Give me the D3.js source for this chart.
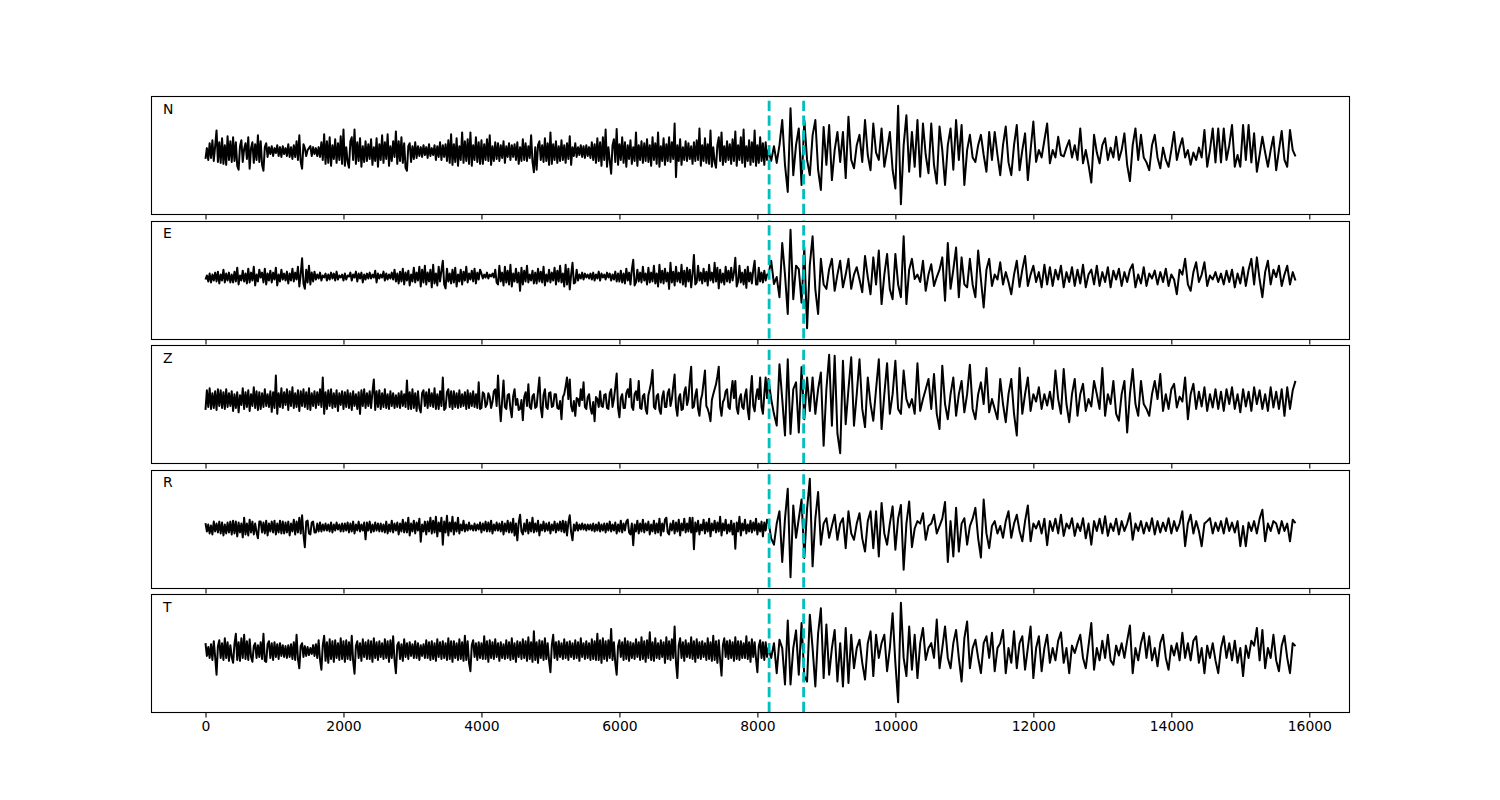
<!DOCTYPE html>
<html><head><meta charset="utf-8">
<script src="https://cdn.jsdelivr.net/npm/d3@7/dist/d3.min.js"></script>
<style>body{margin:0;background:#fff}svg{display:block}</style>
</head><body>
<svg id="chart" width="1500" height="800"></svg>
<script>
// channel names, one panel each
const channels = ["N", "E", "Z", "R", "T"];
// pre-event noise is digitised every 20 samples, the event/coda every 40 samples
const noiseStep = 20;
const codaStart = 8160;
const codaStep = 40;
// picked arrival times (dashed cyan lines)
const pickTimes = [8170, 8670];
// x tick values
const xTicks = [0, 2000, 4000, 6000, 8000, 10000, 12000, 14000, 16000];

// amplitudes in hundredths of the normalised trace
const noiseN = [
-8,14,-10,24,-6,30,-12,18,50,-14,26,-16,34,-18,20,-20,38,-10,28,-14,
36,-12,26,-22,-30,18,30,-14,12,24,-8,36,-28,14,26,-16,22,-10,40,-14,
28,-20,-32,16,24,-4,16,2,18,-2,14,4,20,-2,16,-4,18,2,14,-2,
22,-4,16,-8,20,-4,28,-10,40,-14,-28,22,14,-2,10,14,18,-2,16,2,
14,-2,16,-4,26,-10,42,-18,28,-16,36,-22,20,-8,32,-16,24,-10,38,-18,
52,-22,16,-14,-26,28,36,-10,52,-18,26,-12,34,-24,18,-14,28,-12,22,-8,
32,-20,16,-12,34,-24,22,-10,40,-16,26,-8,42,-22,18,-12,28,-4,48,-18,
28,-12,36,-16,24,-26,-32,18,24,-14,18,-8,26,-6,18,-2,16,-4,20,0,
16,-6,22,-2,14,0,20,-10,18,-4,26,-10,20,-4,22,-12,30,-16,42,-20,
22,-14,34,-22,18,-10,46,-16,28,-12,32,-18,46,-22,20,-10,36,-14,26,-18,
30,-18,22,-10,32,-12,40,-20,18,-12,26,-8,24,-12,20,-6,28,-16,18,-4,
24,-10,20,-4,22,-10,26,-18,16,-12,32,-10,24,-12,18,-6,40,-14,-35,16,
-30,20,28,-10,20,-14,34,-12,24,-20,46,-18,22,-10,28,-16,18,-12,30,-10,
20,-16,24,-8,38,-20,16,-2,24,-4,16,0,20,-4,18,-6,20,-2,16,-6,
26,-10,22,-16,34,-12,26,-22,36,-10,52,-24,16,-12,-38,20,32,-14,53,-20,
22,-10,36,-16,26,-24,20,-8,30,-18,16,-12,46,-22,20,-10,28,-16,24,-12,
32,-14,20,-22,36,-10,24,-18,46,-24,18,-12,34,-20,22,-12,36,-14,26,-8,
64,-45,20,-12,32,-20,16,-10,28,-12,24,-8,18,-18,26,-12,30,-10,54,-22,
20,-12,34,-16,22,-18,50,-24,16,-14,-26,20,36,-12,46,-20,18,-14,28,-10,
22,-18,32,-12,48,-22,20,-10,36,-16,52,-24,18,-12,30,-20,26,-14,50,-22,
20,-16,36,-12,24,-20,26,-10];
const codaN = [
10,-12,18,-16,20,71,-20,-75,95,-41,
20,54,-61,71,-10,-41,40,71,-30,-71,
57,-20,61,-51,10,47,-14,47,-47,78,
-10,-27,20,41,-14,71,0,-31,64,5,
-10,54,-24,10,47,-30,-68,100,-100,20,
81,-34,47,-24,71,-44,64,0,-37,64,
-20,-58,58,10,-61,20,54,-30,71,-10,
61,-61,10,41,-5,-14,20,41,0,-34,
47,-10,47,0,-41,20,58,-15,-41,20,
61,-31,10,44,-51,10,68,-14,10,-5,
30,64,-17,10,-5,37,0,-3,15,30,
-5,20,-10,54,-17,10,-20,-56,41,5,
-17,20,34,-10,15,-5,37,-10,10,44,
-20,-53,20,54,-10,41,-5,-15,-31,20,
41,-5,-27,15,-10,-24,10,47,-10,15,
34,-5,10,-20,5,-10,15,-5,51,-24,
10,54,-15,54,-15,54,-10,20,61,-24,
0,-24,61,-10,61,-15,44,-34,0,37,
5,-24,10,37,-31,10,49,-10,-24,51,
10,-3];

const noiseE = [
0,8,-4,12,-6,10,-2,14,-4,16,-8,10,-2,20,-6,12,-2,14,-6,10,
-6,16,-4,24,-10,8,-2,18,-4,12,-8,22,-6,14,-2,26,-12,10,-4,20,
4,14,-6,22,-10,12,-2,18,-6,14,0,24,-12,10,-4,20,0,12,-2,16,
-8,12,-2,22,-4,14,0,26,-14,10,43,-8,-19,20,-6,28,-10,14,-4,16,
0,10,2,14,-2,8,4,12,-2,10,0,14,2,12,-2,16,0,8,4,10,
-2,12,0,8,6,14,-2,10,4,16,-4,12,2,14,-6,10,0,12,2,14,
2,10,4,18,-6,12,2,10,4,16,-2,12,0,10,2,14,0,20,-4,12,
-8,16,-4,22,-10,14,-2,18,-12,10,-4,24,-6,14,-2,26,-14,20,-6,28,
-10,14,-4,20,-16,30,-8,12,-12,26,-4,18,38,-10,-18,22,-4,12,-8,20,
-6,24,-14,10,-4,20,-10,16,-2,26,-6,12,0,18,-4,22,-8,14,0,20,
12,2,10,4,14,2,10,6,12,4,20,-6,-10,28,-4,14,-12,26,-6,18,
-10,30,-14,12,-4,22,-6,14,-23,24,-10,18,-4,28,-6,10,-2,18,-8,14,
-8,22,-4,16,-6,26,-12,10,-4,20,-6,14,-2,24,-10,18,-4,28,-6,12,
-14,30,-10,22,-20,10,34,-8,-6,20,-2,10,2,14,0,12,4,10,2,12,
0,14,-2,10,2,16,-2,12,4,10,0,14,4,12,-2,10,0,16,-4,12,
-4,18,-6,12,-8,22,-2,14,-10,20,40,-12,-6,20,-4,14,-6,26,-2,12,
-10,24,-6,14,-4,28,-8,12,-14,30,-6,18,-8,22,-4,14,-19,34,-6,16,
-12,26,-4,14,-6,30,-10,18,-14,24,-4,20,-16,12,50,-10,-6,28,-2,14,
-8,22,-4,16,-12,30,-2,14,-6,34,-4,24,-18,20,-6,12,-10,26,-4,18,
-6,24,-2,14,44,-14,-4,28,-6,14,-10,20,-17,26,-4,14,-8,20,38,-10,
-10,24,-4,14,-6,18,-2,10];
const codaE = [
10,38,-9,5,-36,74,10,-70,101,-40,
28,21,-47,65,-99,30,88,-20,-70,42,
-10,-19,21,42,-23,10,38,-16,10,42,
-19,10,25,0,-26,48,5,-30,45,-10,
59,-50,10,52,-20,-40,52,-10,-36,88,
-50,20,42,1,10,-5,38,-23,10,31,
-13,5,20,45,-43,74,-19,20,65,-36,
45,-10,-16,42,-10,-36,59,0,-57,20,
42,-13,10,0,35,-10,15,-5,-30,10,
38,-15,20,48,-13,10,28,-5,15,-16,
30,-10,25,-13,20,0,28,-16,15,-5,
25,-13,20,-8,30,-16,10,20,-10,28,
-13,15,-5,25,-16,18,0,22,-13,15,
-5,20,31,-16,10,-8,25,-13,12,2,
18,-10,15,-5,22,-13,10,0,-30,20,
10,42,-10,-23,15,35,-5,10,35,-13,
8,0,15,-5,12,-10,18,-5,20,-16,
12,-8,25,-13,20,42,-10,45,0,-36,
15,38,-10,20,5,28,-13,10,28,-10,
15,-2];

const noiseZ = [
-12,28,-6,32,-10,22,-8,26,-12,30,-4,28,-8,24,-10,30,-6,22,-4,26,
-14,20,-8,24,-17,18,-2,32,-10,24,-6,28,-14,20,-4,34,-8,26,-12,24,
-10,22,-6,30,-4,20,-6,26,-16,24,-8,58,-20,22,-6,32,-8,24,-2,30,
-12,26,-4,34,-8,22,-6,28,-14,26,-4,30,-6,24,-10,32,-12,22,-4,26,
-8,24,-2,30,-6,54,-20,24,-10,28,-4,30,-8,22,-6,28,-14,22,-2,26,
-10,24,-6,28,-8,22,-12,26,-4,20,-10,24,-20,28,-4,30,-8,22,-4,26,
-8,24,50,-12,26,-6,28,-10,22,-6,30,-8,20,-10,26,-4,22,-8,18,-6,
22,-8,26,-4,20,-6,48,-10,24,-10,30,-8,22,-14,26,-8,-17,22,28,-4,
24,-8,30,-4,22,-6,32,-10,20,-10,26,-4,54,-12,-8,24,30,-6,26,-10,
26,-6,22,-8,28,-6,20,-4,24,-10,28,-8,22,-4,26,-6,20,-8,44,-10,
-8,24,20,-6,0,22,14,-8,4,26,30,-4,58,2,-35,8,48,-6,-10,18,
20,-10,-27,16,30,-2,10,-12,-10,8,-33,14,24,-4,40,-6,-10,16,20,-8,
-5,26,54,-8,-27,18,30,-6,-10,22,24,-6,-4,20,20,-8,-10,6,-31,14,
20,36,54,10,50,-4,-15,6,-24,12,10,-4,30,8,44,-6,-10,14,20,-8,
-20,4,-35,14,10,-6,26,-4,-6,18,20,-8,-10,22,30,-6,10,34,62,-8,
-27,12,20,-8,-8,22,30,14,51,-6,-12,20,26,8,47,-8,-10,16,20,-10,
-20,18,30,44,69,-6,-10,16,20,-12,-20,14,26,-6,-6,22,30,-4,10,36,
60,-6,-24,12,20,-12,-10,24,34,-2,10,48,76,-8,-5,18,30,-10,-24,8,
20,44,68,-4,-10,-20,-35,8,20,30,40,56,76,-6,-24,4,10,26,30,-6,
-10,24,47,12,47,-8,-20,10,20,-6,-10,18,30,-12,-31,24,57,-4,-15,14,
30,10,54,-6,-20,20,54,12];
const codaZ = [
51,10,-20,-44,81,10,-64,91,-61,30,
44,-58,75,-31,54,-14,54,-20,30,64,
-85,30,100,-44,98,-60,-100,88,-41,30,
95,-44,20,91,-10,-47,54,0,-34,30,
91,-51,20,83,-20,20,88,-10,-20,68,
10,-7,10,-20,83,-14,10,30,51,-10,
61,-20,-51,78,0,-31,20,54,-24,20,
47,-17,20,80,-10,-31,20,44,0,73,
-17,10,-10,-31,51,0,-37,20,51,-20,
-64,73,-20,20,54,-14,20,5,34,-10,
20,-3,25,-10,68,10,-20,71,0,-37,
20,51,-24,20,41,-14,10,-5,47,20,
-10,73,-24,20,0,47,-20,-34,20,47,
-58,20,71,0,-24,47,0,-10,-24,20,
47,10,61,-14,20,-10,30,41,-7,15,
5,54,-31,20,41,-10,25,-5,34,-14,
20,-7,30,-10,25,-14,30,0,34,-10,
20,-17,30,-5,25,-14,34,0,28,-10,
20,-14,34,-7,25,-10,30,-24,34,-10,
28,47];

const noiseR = [
11,-6,8,-10,6,-12,14,-6,10,-8,14,-10,12,-14,8,-10,12,-8,14,-12,
16,-10,14,-16,12,-8,10,-18,22,-12,10,-14,18,-8,14,-12,10,-8,-20,14,
14,-8,12,-10,16,-14,10,-6,14,-8,16,-12,10,-8,16,-10,14,-10,12,-8,
14,-14,10,-6,18,-12,14,-8,22,-10,27,-12,-38,14,16,-10,-12,12,14,-8,
-8,10,-6,12,-6,8,-4,10,-4,8,-6,12,-8,8,-4,12,-2,8,-6,10,
-6,10,-4,12,-8,10,-6,14,-10,8,-4,14,-6,8,-4,12,-22,12,-4,14,
-8,8,-6,12,-4,10,-6,10,-6,8,-8,14,-10,8,-6,16,-8,10,-4,12,
-12,10,-6,18,-8,12,-8,22,-14,10,-6,16,-10,12,-4,20,-27,8,-6,14,
-12,14,-6,22,-10,16,-8,24,-16,12,-6,22,-33,14,-8,26,-14,12,-6,24,
-12,12,-6,22,-10,8,-4,16,-6,8,-4,12,-2,6,-4,10,-4,8,-2,12,
-8,10,-4,14,-6,12,-6,16,-10,8,-4,12,-4,10,-6,14,-12,10,-6,16,
-8,12,-8,20,-14,10,-24,12,28,-6,-12,10,-6,18,-10,12,-6,22,-8,10,
-6,16,-14,8,-4,14,-6,10,-4,12,-10,8,-4,14,-8,10,-4,14,-6,16,
-8,14,-14,12,27,-8,-24,8,-4,12,-4,8,-2,10,-2,8,-4,8,-2,8,
-4,10,-6,8,-4,12,-6,8,-4,10,-8,10,-4,14,-6,8,-4,12,-10,8,
-6,16,-8,10,-4,14,18,-8,-12,10,-34,8,-6,16,-10,10,-6,18,-8,10,
-4,14,-12,8,-6,16,-10,10,-8,20,-14,10,-6,18,22,-8,-12,10,-4,16,
-10,12,-6,18,-14,10,-4,20,-8,10,-6,22,-8,22,-42,12,-6,16,-12,8,
-4,18,-10,12,-6,20,-16,10,-4,16,-8,12,-6,24,-14,10,-4,18,-10,8,
-6,16,-12,10,-41,12,-6,24,-14,10,-4,18,-10,8,-6,16,-8,12,-4,20,
-12,10,-6,14,-16,12,-4,18];
const codaR = [
15,-20,-33,10,35,-68,20,81,-99,47,
-19,20,59,-60,40,101,-77,20,74,-33,
10,21,-19,5,28,-23,10,21,-40,35,
-10,-23,10,31,-20,-47,15,35,-40,35,
-57,52,-10,-33,10,45,-43,20,48,-84,
10,55,-38,0,15,10,31,-23,5,10,
28,-10,5,20,54,-68,15,-57,42,-47,
10,21,-33,5,20,42,-20,-59,59,-10,
-40,5,15,-10,5,-19,15,35,-19,10,
28,-5,-26,15,47,-26,10,0,15,-10,
20,-34,15,-5,20,-10,28,-15,10,0,
21,-15,10,-5,21,-20,10,-33,15,-5,
20,-10,25,-15,10,-5,20,-12,15,-5,
10,31,-23,10,-5,15,-10,12,-5,21,
-12,15,-8,12,-5,21,-10,15,-5,10,
35,-36,10,28,-10,15,-5,-36,10,15,
21,-10,12,-5,15,-10,21,-5,12,-8,
15,-36,5,-36,12,-5,15,-10,20,38,
-26,10,-5,15,10,-10,15,-5,10,-26,
18,11];

const noiseT = [
20,-6,12,-10,18,-14,24,-8,-44,14,26,-10,20,-14,30,-10,22,-16,16,-8,
-20,18,39,-14,22,-16,30,-10,37,-12,24,-14,28,-8,-18,14,20,-10,16,-8,
22,-12,39,-16,-18,18,24,-10,20,-14,22,-8,18,-12,20,-6,16,-8,14,-10,
16,-8,18,-12,22,-14,37,-12,-31,14,20,-8,14,-6,12,-4,10,-2,16,-6,
18,-10,26,-14,-34,16,35,-16,22,-20,28,-12,24,-18,26,-10,20,-14,30,-12,
24,-18,26,-12,22,-14,35,-16,-42,14,24,-10,20,-16,28,-8,22,-12,26,-12,
24,-18,30,-10,22,-14,24,-8,20,-12,28,-10,24,-18,26,-10,34,-14,-41,16,
22,-12,18,-16,28,-8,20,-12,22,-6,18,-10,24,-10,20,-14,16,-6,18,-10,
26,-10,22,-14,24,-12,20,-16,28,-8,22,-12,24,-10,20,-14,30,-12,24,-18,
24,-10,20,-14,28,-12,22,-16,35,-14,24,-20,-37,16,26,-8,20,-14,22,-10,
20,-12,34,-12,24,-18,26,-10,22,-12,28,-8,20,-16,22,-10,18,-12,26,-10,
22,-14,30,-12,20,-18,24,-8,22,-12,28,-10,24,-16,32,-12,22,-18,44,-14,
22,-20,26,-10,24,-14,30,-12,20,-16,-39,16,37,-10,22,-14,24,-8,20,-12,
28,-10,22,-14,24,-8,20,-12,26,-10,22,-16,30,-8,20,-12,24,-10,20,-14,
28,-12,24,-14,39,-14,26,-20,30,-12,24,-16,26,-10,49,-14,22,-20,-44,14,
26,-8,22,-14,30,-12,24,-16,22,-10,20,-12,28,-8,22,-14,32,-12,24,-18,
26,-10,42,-14,22,-16,30,-10,20,-12,26,-8,22,-20,32,-12,24,-14,28,-10,
54,-20,-51,16,30,-10,22,-16,26,-8,20,-10,32,-12,24,-18,28,-10,22,-12,
24,-8,20,-14,30,-12,22,-16,35,-14,24,-20,26,-14,-46,16,30,-8,24,-12,
26,-10,22,-16,32,-12,24,-14,24,-10,20,-10,34,-12,22,-18,28,-8,22,-12,
-39,14,26,-10,22,-14,22,-8];
const codaT = [
10,-10,20,-41,27,10,-64,66,-64,10,
46,-44,61,-47,-58,78,10,-68,40,91,
-51,58,-44,10,47,-58,20,-68,51,-61,
37,-31,10,27,-20,-54,20,44,-47,37,
-10,20,37,-37,10,81,-20,-100,102,-10,
-47,54,-34,37,-51,20,51,-14,10,20,
-10,68,-31,10,54,-10,-31,20,47,-10,
-58,30,64,-31,10,27,-10,-41,20,34,
-10,41,-37,10,20,47,-41,10,-20,44,
-31,20,34,-34,10,54,-51,10,34,-37,
10,37,-20,10,-15,25,42,-20,10,-41,
15,0,20,37,-10,-31,15,61,-34,10,
-15,25,-10,37,-15,-24,15,-5,20,-10,
25,56,-41,10,-15,20,41,-10,34,-15,
10,-27,20,37,-10,-34,15,-5,20,-15,
41,-10,20,-15,25,34,-20,10,-41,15,
-10,20,-15,-41,10,34,-10,20,-15,25,
-20,10,-47,15,-10,25,15,51,-15,47,
-31,10,-10,37,-15,-37,15,35,-10,-41,
20,14];

const noiseTraces = [noiseN, noiseE, noiseZ, noiseR, noiseT];
const codaTraces = [codaN, codaE, codaZ, codaR, codaT];

// ---------- layout ----------
const svg = d3.select("#chart");
const left = 151, right = 1350, top0 = 96, panelH = 118, gap = 6.5;
const x = d3.scaleLinear().domain([-790, 16590]).range([left, right]);
const font = "DejaVu Sans, sans-serif";

channels.forEach((ch, k) => {
  const pTop = top0 + k * (panelH + gap);
  const pBot = pTop + panelH;
  const y = d3.scaleLinear().domain([-120, 120]).range([pBot, pTop]);
  const g = svg.append("g");

  const pts = noiseTraces[k].map((v, i) => ({t: i * noiseStep, v}))
    .concat(codaTraces[k].map((v, j) => ({t: codaStart + j * codaStep, v})));
  const line = d3.line().x(d => x(d.t)).y(d => y(d.v));

  g.append("path")
    .datum(pts)
    .attr("d", line)
    .attr("fill", "none")
    .attr("stroke", "#000")
    .attr("stroke-width", 2)
    .attr("stroke-linejoin", "round");

  pickTimes.forEach(t => {
    g.append("line")
      .attr("x1", x(t)).attr("x2", x(t))
      .attr("y1", pBot).attr("y2", pTop)
      .attr("stroke", "#00bfbf")
      .attr("stroke-width", 2.8)
      .attr("stroke-dasharray", "10.3,4.4");
  });

  g.append("rect")
    .attr("x", left + 0.5).attr("y", Math.round(pTop) + 0.5)
    .attr("width", right - left - 1).attr("height", panelH)
    .attr("fill", "none").attr("stroke", "#000").attr("stroke-width", 1.1);

  const axis = d3.axisBottom(x).tickValues(xTicks).tickSize(4.9).tickPadding(4.2)
    .tickFormat(k === channels.length - 1 ? d3.format("d") : () => "");
  const ag = g.append("g").attr("transform", `translate(0,${Math.round(pTop) + panelH + 0.5})`).call(axis);
  ag.select(".domain").remove();
  ag.selectAll(".tick line").attr("stroke", "#000").attr("stroke-width", 1.1);
  ag.selectAll(".tick text").attr("fill", "#000").style("font-family", font).style("font-size", "13.9px");

  g.append("text")
    .attr("x", left + 0.01 * (right - left))
    .attr("y", pBot - 0.85 * panelH)
    .style("font-family", font).style("font-size", "13.9px")
    .attr("fill", "#000")
    .text(ch);
});
</script>
</body></html>
